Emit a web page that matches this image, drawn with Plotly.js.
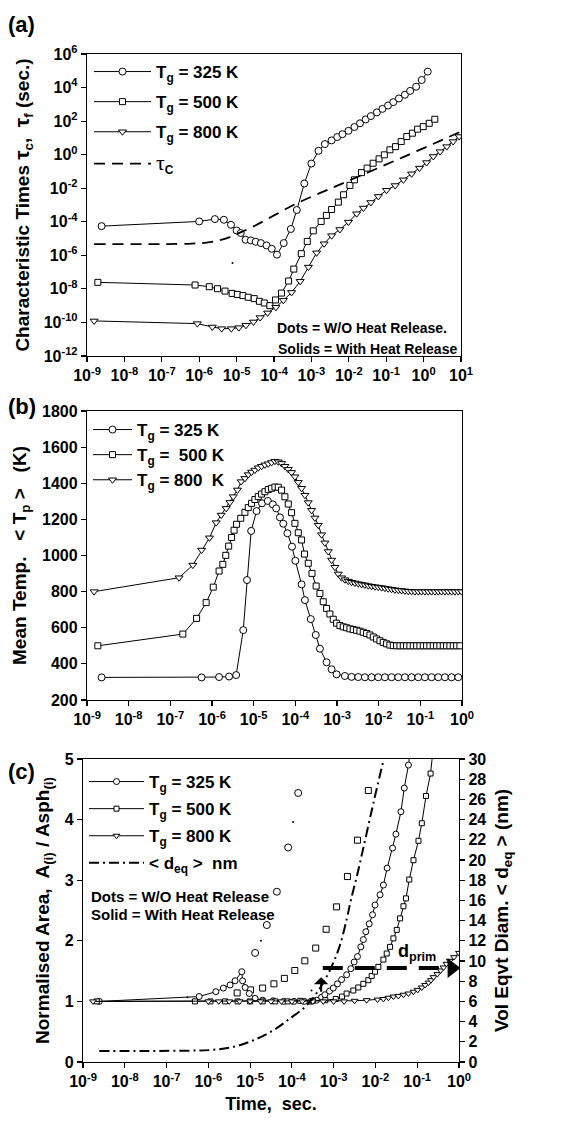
<!DOCTYPE html>
<html><head><meta charset="utf-8">
<script src="https://cdn.plot.ly/plotly-3.0.1.min.js"></script>
<style>html,body{margin:0;padding:0;background:#fff;}#chart{width:569px;height:1121px;}</style>
</head><body><div id="chart"></div>
<script>
// ---------- Panel (a): characteristic times (log10 values) ----------
const a_t325 = [-8.61,-6.00,-5.58,-5.34,-5.15,-5.00,-4.89,-4.76,-4.62,-4.49,-4.35,-4.20,-4.06,-3.92,-3.74,-3.55,-3.39,-3.19,-3.00,-2.81,-2.64,-2.46,-2.31,-2.17,-2.01,-1.85,-1.70,-1.55,-1.41,-1.25,-1.10,-0.95,-0.81,-0.66,-0.50,-0.36,-0.20,-0.05,0.11];
const a_y325 = [-4.26,-3.98,-3.84,-3.88,-4.18,-4.52,-4.67,-5.07,-5.11,-5.19,-5.27,-5.41,-5.61,-5.96,-5.27,-4.43,-3.30,-1.72,-0.53,0.23,0.63,0.85,1.05,1.22,1.42,1.65,1.87,2.10,2.30,2.52,2.73,2.93,3.13,3.35,3.57,3.80,4.05,4.45,4.95];
const a_t500 = [-8.71,-6.11,-5.73,-5.51,-5.31,-5.12,-4.98,-4.83,-4.69,-4.53,-4.39,-4.26,-4.11,-3.96,-3.80,-3.61,-3.47,-3.27,-3.11,-2.95,-2.74,-2.60,-2.46,-2.28,-2.14,-1.97,-1.85,-1.66,-1.51,-1.35,-1.19,-1.05,-0.90,-0.75,-0.60,-0.45,-0.30,-0.16,-0.01,0.15,0.30];
const a_y500 = [-7.61,-7.77,-7.87,-7.99,-8.13,-8.27,-8.33,-8.40,-8.50,-8.58,-8.74,-8.84,-9.00,-8.66,-8.25,-7.53,-6.82,-5.90,-5.17,-4.54,-3.98,-3.62,-3.27,-2.83,-2.39,-1.83,-1.50,-1.07,-0.80,-0.51,-0.25,-0.01,0.29,0.48,0.78,1.08,1.28,1.52,1.67,1.87,2.11];
const a_t800 = [-8.81,-6.05,-5.65,-5.40,-5.14,-4.94,-4.75,-4.55,-4.37,-4.17,-3.95,-3.75,-3.53,-3.30,-3.08,-2.86,-2.66,-2.46,-2.24,-2.01,-1.79,-1.61,-1.41,-1.21,-0.99,-0.76,-0.54,-0.32,-0.11,0.08,0.26,0.44,0.62,0.79,0.95];
const a_y800 = [-9.91,-10.07,-10.27,-10.37,-10.37,-10.31,-10.17,-9.97,-9.71,-9.43,-9.10,-8.68,-8.21,-7.55,-6.70,-5.85,-5.31,-4.83,-4.46,-4.02,-3.52,-3.18,-2.85,-2.49,-2.12,-1.84,-1.50,-1.14,-0.80,-0.47,-0.11,0.18,0.48,0.78,1.08];
const a_tcT = [-8.81,-7.0,-6.2,-5.8,-5.5,-5.2,-4.91,-4.5,-4.0,-3.36,-2.5,-1.5,-0.5,0.5,1.0];
const a_tcY = [-5.33,-5.33,-5.30,-5.24,-5.12,-4.93,-4.65,-4.22,-3.62,-2.87,-2.03,-1.07,-0.10,0.88,1.38];
const a_dotT = [-5.11], a_dotY = [-6.46];
const a_xticks = [-9,-8,-7,-6,-5,-4,-3,-2,-1,0,1];
const a_yticks = [-12,-10,-8,-6,-4,-2,0,2,4,6];

// ---------- Panel (b): mean particle temperature ----------
const b_t325 = [-8.65,-6.25,-5.83,-5.59,-5.42,-5.25,-5.16,-5.06,-4.93,-4.80,-4.66,-4.54,-4.46,-4.37,-4.29,-4.19,-4.08,-4.00,-3.85,-3.77,-3.63,-3.51,-3.41,-3.25,-3.13,-3.01,-2.81,-2.65,-2.49,-2.33,-2.17,-2.01,-1.85,-1.69,-1.53,-1.37,-1.21,-1.05,-0.89,-0.73,-0.57,-0.41,-0.25,-0.09];
const b_y325 = [325,325,327,330,338,587,864,1136,1246,1289,1302,1283,1261,1211,1176,1123,1049,971,840,753,648,560,484,409,370,342,333,328,327,326,326,326,326,326,326,326,326,326,326,326,326,326,326,326];
const b_t500 = [-8.74,-6.70,-6.37,-6.14,-5.97,-5.83,-5.74,-5.67,-5.60,-5.53,-5.47,-5.41,-5.31,-5.21,-5.13,-5.05,-4.97,-4.89,-4.81,-4.73,-4.65,-4.57,-4.49,-4.41,-4.33,-4.25,-4.17,-4.09,-4.01,-3.93,-3.85,-3.78,-3.69,-3.60,-3.50,-3.41,-3.33,-3.25,-3.17,-3.09,-3.01,-2.93,-2.85,-2.77,-2.69,-2.61,-2.53,-2.45,-2.37,-2.29,-2.21,-2.13,-2.05,-1.97,-1.89,-1.81,-1.73,-1.65,-1.57,-1.49,-1.41,-1.33,-1.25,-1.17,-1.09,-1.01,-0.93,-0.85,-0.77,-0.69,-0.61,-0.53,-0.45,-0.37,-0.29,-0.21,-0.13,-0.05];
const b_y500 = [500,565,652,739,825,914,951,1001,1052,1100,1140,1173,1206,1239,1265,1289,1310,1326,1340,1353,1365,1372,1379,1378,1362,1325,1285,1237,1178,1126,1086,1008,957,901,831,790,744,707,676,647,625,612,605,600,594,590,586,581,575,568,560,549,538,528,519,511,504,501,500,500,500,500,500,500,500,500,500,500,500,500,500,500,500,500,500,500,500,500];
const b_t800 = [-8.83,-6.79,-6.46,-6.25,-6.06,-5.90,-5.78,-5.66,-5.57,-5.49,-5.39,-5.30,-5.21,-5.13,-5.05,-4.97,-4.89,-4.81,-4.73,-4.65,-4.57,-4.49,-4.41,-4.33,-4.25,-4.17,-4.09,-4.01,-3.93,-3.85,-3.77,-3.69,-3.61,-3.53,-3.45,-3.37,-3.29,-3.21,-3.13,-3.05,-2.97,-2.89,-2.81,-2.73,-2.65,-2.57,-2.49,-2.41,-2.33,-2.25,-2.17,-2.09,-2.01,-1.93,-1.85,-1.77,-1.69,-1.61,-1.53,-1.45,-1.37,-1.29,-1.21,-1.13,-1.05,-0.97,-0.89,-0.81,-0.73,-0.65,-0.57,-0.49,-0.41,-0.33,-0.25,-0.17,-0.09,-0.01];
const b_y800 = [800,877,947,1030,1098,1182,1224,1261,1294,1326,1363,1409,1427,1448,1462,1473,1486,1494,1502,1508,1515,1522,1519,1510,1494,1477,1460,1436,1405,1372,1334,1293,1250,1208,1168,1115,1070,1022,975,935,898,877,866,858,852,848,844,840,837,833,830,827,825,822,819,816,813,810,808,806,804,802,801,800,800,800,800,800,800,800,800,800,800,800,800,800,800,800];
const b_xticks = [-9,-8,-7,-6,-5,-4,-3,-2,-1,0];
const b_yticks = [200,400,600,800,1000,1200,1400,1600,1800];

// ---------- Panel (c): normalised area (left) and <d_eq> (right) ----------
const c_t325 = [-8.61,-6.22,-5.82,-5.64,-5.48,-5.36,-5.20,-5.18,-5.12,-5.02,-4.88,-4.70,-4.45,-4.20,-3.95,-3.70,-3.55,-3.41,-3.29,-3.21,-3.10,-3.01,-2.91,-2.81,-2.69,-2.59,-2.51,-2.43,-2.35,-2.29,-2.23,-2.15,-2.07,-2.01,-1.89,-1.81,-1.72,-1.59,-1.51,-1.39,-1.31,-1.21,-1.12];
const c_y325 = [1.0,1.08,1.16,1.22,1.27,1.34,1.49,1.34,1.23,1.13,1.05,1.02,1.01,1.0,1.0,1.0,1.0,1.02,1.07,1.11,1.17,1.22,1.29,1.36,1.44,1.54,1.65,1.74,1.90,2.02,2.15,2.28,2.43,2.59,2.76,2.92,3.20,3.53,3.76,4.13,4.52,4.90,5.4];
const c_t500 = [-8.67,-6.32,-5.95,-5.6,-5.3,-5.0,-4.7,-4.4,-4.1,-3.8,-3.5,-3.2,-2.95,-2.80,-2.69,-2.53,-2.41,-2.29,-2.17,-2.09,-2.01,-1.93,-1.81,-1.73,-1.65,-1.57,-1.49,-1.41,-1.33,-1.27,-1.19,-1.09,-0.97,-0.89,-0.79,-0.68,-0.60];
const c_y500 = [1.0,1.0,1.0,1.0,1.0,1.0,1.0,1.0,1.0,1.01,1.01,1.02,1.04,1.08,1.13,1.18,1.23,1.29,1.35,1.42,1.49,1.57,1.69,1.79,1.90,2.04,2.18,2.37,2.57,2.70,3.01,3.33,3.65,3.94,4.39,4.76,5.3];
const c_t800 = [-8.76,-6.0,-5.75,-5.5,-5.25,-5.0,-4.75,-4.5,-4.25,-4.0,-3.75,-3.5,-3.25,-3.0,-2.75,-2.5,-2.21,-1.95,-1.81,-1.69,-1.57,-1.45,-1.33,-1.21,-1.09,-0.99,-0.89,-0.81,-0.73,-0.67,-0.61,-0.52,-0.44,-0.37,-0.30,-0.22,-0.12,0.0];
const c_y800 = [1.0,1.0,1.0,1.0,1.0,1.0,1.0,1.0,1.0,1.0,1.0,1.0,1.0,1.0,1.0,1.01,1.02,1.03,1.04,1.06,1.08,1.09,1.11,1.13,1.16,1.19,1.23,1.27,1.31,1.35,1.40,1.45,1.51,1.56,1.62,1.67,1.73,1.80];
const c_dot325T = [-4.88,-4.60,-4.36,-4.09,-3.85];
const c_dot325Y = [1.80,2.26,2.81,3.54,4.44];
const c_dot500T = [-5.31,-4.99,-4.70,-4.43,-4.18,-3.93,-3.69,-3.43,-3.18,-2.93,-2.67,-2.43,-2.17];
const c_dot500Y = [1.14,1.19,1.22,1.29,1.38,1.51,1.67,1.88,2.19,2.56,3.06,3.66,4.48];
const c_tinyT = [-6.5,-4.74,-3.97,-3.53];
const c_tinyY = [1.07,2.0,3.96,1.18];
const c_deqT = [-8.61,-7.5,-6.5,-5.9,-5.4,-4.92,-4.44,-4.05,-3.65,-3.33,-3.09,-2.87,-2.69,-2.59,-2.45,-2.30,-2.10,-1.95,-1.80];
const c_deqY = [1.1,1.1,1.12,1.2,1.5,2.15,3.15,4.3,5.6,7.3,9.1,11.3,14.1,16.0,18.3,21.0,24.7,27.4,30.0];
const c_primT = [-3.26,-0.30];
const c_primY = [9.3,9.3];
const c_primHeadT = [-0.17];
const c_xticks = [-9,-8,-7,-6,-5,-4,-3,-2,-1,0];
const c_yticks = [0,1,2,3,4,5];
const c_y2ticks = [0,2,4,6,8,10,12,14,16,18,20,22,24,26,28,30];

// ---------- helpers ----------
const pw = a => a.map(v => Math.pow(10, v));
const expLabel = a => a.map(v => '10<sup>' + v + '</sup>');
const FONT = 'Liberation Sans, Arial, sans-serif';
const BLK = '#000';
const mk = (sym, size) => ({symbol: sym, size: size, color: '#fff', line: {color: BLK, width: 1}});
const ln = {color: BLK, width: 1};

const traces = [];
// (a)
traces.push({x: pw(a_t325), y: pw(a_y325), xaxis:'x', yaxis:'y', mode:'lines+markers', line: ln, marker: mk('circle',7), name:'T<sub>g</sub> = 325 K', legend:'legend', legendgroup:'a1'});
traces.push({x: pw(a_t500), y: pw(a_y500), xaxis:'x', yaxis:'y', mode:'lines+markers', line: ln, marker: mk('square',6), name:'T<sub>g</sub> = 500 K', legend:'legend', legendgroup:'a2'});
traces.push({x: pw(a_t800), y: pw(a_y800), xaxis:'x', yaxis:'y', mode:'lines+markers', line: ln, marker: mk('triangle-down',7), name:'T<sub>g</sub> = 800 K', legend:'legend', legendgroup:'a3'});
traces.push({x: pw(a_tcT), y: pw(a_tcY), xaxis:'x', yaxis:'y', mode:'lines', line:{color:BLK, width:1.8, dash:'11px,7px', shape:'spline'}, name:'<span style="font-family:Liberation Serif;font-weight:normal;font-size:22px">τ</span><sub>C</sub>', legend:'legend2'});
traces.push({x: pw(a_dotT), y: pw(a_dotY), xaxis:'x', yaxis:'y', mode:'markers', marker:{size:2, color:BLK}, showlegend:false});
// (b)
traces.push({x: pw(b_t325), y: b_y325, xaxis:'x2', yaxis:'y2', mode:'lines+markers', line: ln, marker: mk('circle',7), name:'T<sub>g</sub> = 325 K', legend:'legend3', legendgroup:'b1'});
traces.push({x: pw(b_t500), y: b_y500, xaxis:'x2', yaxis:'y2', mode:'lines+markers', line: ln, marker: mk('square',6), name:'T<sub>g</sub> =\u00a0 500 K', legend:'legend3', legendgroup:'b2'});
traces.push({x: pw(b_t800), y: b_y800, xaxis:'x2', yaxis:'y2', mode:'lines+markers', line: ln, marker: mk('triangle-down',7), name:'T<sub>g</sub> = 800\u00a0 K', legend:'legend3', legendgroup:'b3'});
// (c)
traces.push({x: pw(c_dot500T), y: c_dot500Y, xaxis:'x3', yaxis:'y3', mode:'markers', marker: mk('square',6), showlegend:false});
traces.push({x: pw(c_dot325T), y: c_dot325Y, xaxis:'x3', yaxis:'y3', mode:'markers', marker: mk('circle',7), showlegend:false});
traces.push({x: pw(c_tinyT), y: c_tinyY, xaxis:'x3', yaxis:'y3', mode:'markers', marker:{size:2, color:BLK}, showlegend:false});
traces.push({x: pw(c_t325), y: c_y325, xaxis:'x3', yaxis:'y3', mode:'lines+markers', line: ln, marker: mk('circle',6), name:'T<sub>g</sub> = 325 K', legend:'legend4', legendgroup:'c1'});
traces.push({x: pw(c_t500), y: c_y500, xaxis:'x3', yaxis:'y3', mode:'lines+markers', line: ln, marker: mk('square',5), name:'T<sub>g</sub> = 500 K', legend:'legend4', legendgroup:'c2'});
traces.push({x: pw(c_t800), y: c_y800, xaxis:'x3', yaxis:'y3', mode:'lines+markers', line: ln, marker: mk('triangle-down',6), name:'T<sub>g</sub> = 800 K', legend:'legend4', legendgroup:'c3'});
traces.push({x: pw(c_deqT), y: c_deqY, xaxis:'x3', yaxis:'y4', mode:'lines', line:{color:BLK, width:2, dash:'10px,4px,2px,4px', shape:'spline'}, name:'< d<sub>eq</sub> >\u00a0 nm', legend:'legend4', legendgroup:'c4'});
traces.push({x: pw(c_primT), y: c_primY, xaxis:'x3', yaxis:'y4', mode:'lines', line:{color:BLK, width:4, dash:'20px,12px'}, showlegend:false});
traces.push({x: pw(c_primHeadT), y: [c_primY[1]], xaxis:'x3', yaxis:'y4', mode:'markers', marker:{symbol:'triangle-right', size:17, color:BLK}, showlegend:false, cliponaxis:false});

const tickFont = {family: FONT, size: 16, color: BLK, weight: 'bold'};
const baseAx = {showgrid:false, zeroline:false, showline:true, linecolor:BLK, linewidth:1.2, ticks:'outside', ticklen:5, tickwidth:1.2, tickcolor:BLK, tickfont: tickFont};
const titleFont = {family: FONT, size: 19, color: BLK, weight: 'bold'};

const H = 1121, W = 569;
const py = p => 1 - p / H, px = p => p / W;

const layout = {
  width: W, height: H, margin: {l:0, r:0, t:0, b:0}, paper_bgcolor:'#fff', plot_bgcolor:'#fff',
  font: {family: FONT, size: 16, color: BLK, weight: 'bold'},
  xaxis: Object.assign({}, baseAx, {type:'log', range:[-9,1], domain:[px(87), px(461)], anchor:'y', mirror:true, tickvals: pw(a_xticks), ticktext: expLabel(a_xticks)}),
  yaxis: Object.assign({}, baseAx, {type:'log', range:[-12,6], domain:[py(356), py(54)], anchor:'x', mirror:true, tickvals: pw(a_yticks), ticktext: expLabel(a_yticks),
    title:{text:'Characteristic Times <span style="font-size:21px">τ</span><sub>c</sub>,\u00a0 <span style="font-size:21px">τ</span><sub>f</sub> (sec.)', font: titleFont, standoff: 9}}),
  xaxis2: Object.assign({}, baseAx, {type:'log', range:[-9,0], domain:[px(87), px(462)], anchor:'y2', mirror:true, tickvals: pw(b_xticks), ticktext: expLabel(b_xticks)}),
  yaxis2: Object.assign({}, baseAx, {range:[200,1800], domain:[py(700), py(411)], anchor:'x2', mirror:true, tickvals: b_yticks,
    title:{text:'Mean Temp.\u00a0\u00a0 < T<sub>p</sub> >\u00a0\u00a0 (K)', font: titleFont, standoff: 10}}),
  xaxis3: Object.assign({}, baseAx, {type:'log', range:[-9,0], domain:[px(83), px(459)], anchor:'y3', mirror:true, tickvals: pw(c_xticks), ticktext: expLabel(c_xticks),
    title:{text:'Time,\u00a0 sec.', font:{family:FONT, size:18, color:BLK, weight:'bold'}, standoff: 8}}),
  yaxis3: Object.assign({}, baseAx, {range:[0,5], domain:[py(1062), py(759)], anchor:'x3', tickvals: c_yticks,
    title:{text:'Normalised Area,\u00a0 A<sub>(i)</sub> / Asph<sub>(i)</sub>', font: titleFont, standoff: 10}}),
  yaxis4: Object.assign({}, baseAx, {range:[0,30], overlaying:'y3', side:'right', anchor:'x3', tickvals: c_y2ticks,
    title:{text:'Vol Eqvt Diam. < d<sub>eq</sub> > (nm)', font: titleFont, standoff: 9}}),
  legend: {x: px(89), y: py(54), xanchor:'left', yanchor:'top', bgcolor:'rgba(0,0,0,0)', font:{family:FONT, size:17, color:BLK, weight:'bold'}, itemwidth:57, tracegroupgap:5},
  legend2: {x: px(89), y: py(146), xanchor:'left', yanchor:'top', bgcolor:'rgba(0,0,0,0)', font:{family:FONT, size:17, color:BLK, weight:'bold'}, itemwidth:57},
  legend3: {x: px(88), y: py(412), xanchor:'left', yanchor:'top', bgcolor:'rgba(0,0,0,0)', font:{family:FONT, size:17, color:BLK, weight:'bold'}, itemwidth:39, tracegroupgap:0},
  legend4: {x: px(84), y: py(764), xanchor:'left', yanchor:'top', bgcolor:'rgba(0,0,0,0)', font:{family:FONT, size:17, color:BLK, weight:'bold'}, itemwidth:55, tracegroupgap:2},
  annotations: [
    {xref:'paper', yref:'paper', x: px(6), y: py(24), xanchor:'left', yanchor:'middle', text:'(a)', showarrow:false, font:{family:FONT, size:22, color:BLK, weight:'bold'}},
    {xref:'paper', yref:'paper', x: px(6), y: py(406), xanchor:'left', yanchor:'middle', text:'(b)', showarrow:false, font:{family:FONT, size:22, color:BLK, weight:'bold'}},
    {xref:'paper', yref:'paper', x: px(6), y: py(771), xanchor:'left', yanchor:'middle', text:'(c)', showarrow:false, font:{family:FONT, size:22, color:BLK, weight:'bold'}},
    {xref:'paper', yref:'paper', x: px(449), y: py(328), xanchor:'right', yanchor:'middle', text:'Dots = W/O Heat Release.', showarrow:false, font:{family:FONT, size:14, color:BLK, weight:'bold'}},
    {xref:'paper', yref:'paper', x: px(459), y: py(349), xanchor:'right', yanchor:'middle', text:'Solids = With Heat Release', showarrow:false, font:{family:FONT, size:14, color:BLK, weight:'bold'}},
    {xref:'paper', yref:'paper', x: px(89), y: py(896), xanchor:'left', yanchor:'middle', text:'Dots = W/O Heat Release', showarrow:false, font:{family:FONT, size:15, color:BLK, weight:'bold'}},
    {xref:'paper', yref:'paper', x: px(89), y: py(915), xanchor:'left', yanchor:'middle', text:'Solid = With Heat Release', showarrow:false, font:{family:FONT, size:15, color:BLK, weight:'bold'}},
    {xref:'x3', yref:'y4', x: -1.0, y: 9.5, xanchor:'center', yanchor:'bottom', text:'d<sub>prim</sub>', showarrow:false, font:{family:FONT, size:18, color:BLK, weight:'bold'}},
    {xref:'x3', yref:'y4', x: -3.30, y: 8.4, text:'', showarrow:true, arrowhead:1, arrowsize:1.2, arrowwidth:2, arrowcolor:BLK, ax:0, ay:16}
  ]
};

Plotly.newPlot('chart', traces, layout, {displayModeBar:false, staticPlot:true});
</script></body></html>
